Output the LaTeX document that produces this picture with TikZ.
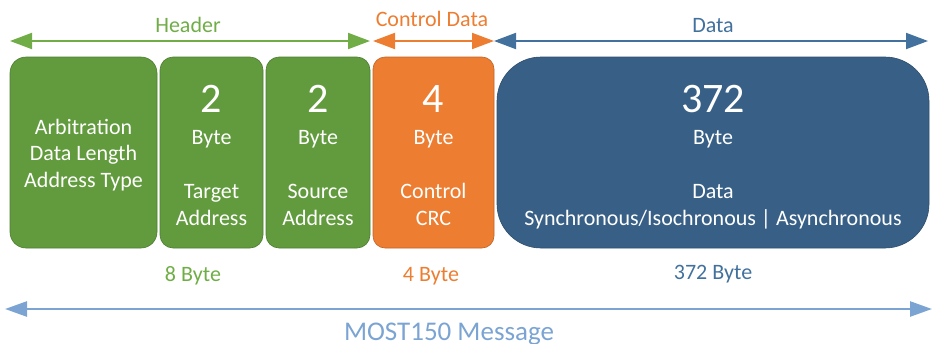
\documentclass[tikz,border=0pt]{standalone}
\usepackage{fontspec}
\setmainfont{Carlito}
\usetikzlibrary{arrows.meta}
\definecolor{hdrgreen}{HTML}{629B3E}
\definecolor{hdrlabel}{HTML}{70AD47}
\definecolor{ctlorange}{HTML}{ED7D31}
\definecolor{datablue}{HTML}{386086}
\definecolor{datalabel}{HTML}{41719C}
\definecolor{msgblue}{HTML}{7BA4D3}
\tikzset{
  field/.style={draw=#1!80!black, line width=0.6pt, fill=#1},
  span/.style={line width=2pt, draw=#1, {Triangle[length=22pt,width=16pt]}-{Triangle[length=22pt,width=16pt]}},
  boxtxt/.style={text=white, font=\fontsize{22}{26}\selectfont, anchor=base},
  bignum/.style={text=white, font=\fontsize{42}{48}\selectfont, anchor=base},
  caption/.style={font=\fontsize{22}{26}\selectfont, anchor=base},
}
\begin{document}
\begin{tikzpicture}[x=1pt,y=-1pt]
\useasboundingbox (0,0) rectangle (934,343);

% message fields
\draw[field=hdrgreen, rounded corners=16pt] (10,57) rectangle (157,248);
\draw[field=hdrgreen, rounded corners=13pt] (160,57) rectangle (263,248);
\draw[field=hdrgreen, rounded corners=13pt] (266,57) rectangle (370,248);
\draw[field=ctlorange, rounded corners=12pt] (373,57) rectangle (494,248);
\draw[field=datablue, rounded corners=44pt] (497,57) rectangle (929,248);

% field contents
\node[boxtxt] (arb) at (83.5,134) {Arbitration};
\node[boxtxt] (dlen) at (83.5,160) {Data Length};
\node[boxtxt] (atype) at (83.5,187) {Address Type};

\node[bignum] (n2a) at (211.5,112) {2};
\node[boxtxt] (b2a) at (211.5,144) {Byte};
\node[boxtxt] (tgt) at (211.5,198) {Target};
\node[boxtxt] (tgta) at (211.5,225) {Address};

\node[bignum] (n2b) at (318,112) {2};
\node[boxtxt] (b2b) at (318,144) {Byte};
\node[boxtxt] (src) at (318,198) {Source};
\node[boxtxt] (srca) at (318,225) {Address};

\node[bignum] (n4) at (433.5,112) {4};
\node[boxtxt] (b4) at (433.5,144) {Byte};
\node[boxtxt] (ctl) at (433.5,198) {Control};
\node[boxtxt] (crc) at (433.5,225) {CRC};

\node[bignum] (n372) at (713,112) {372};
\node[boxtxt] (b372) at (713,144) {Byte};
\node[boxtxt] (dat) at (713,198) {Data};
\node[boxtxt] (sync) at (713,225) {Synchronous/Isochronous | Asynchronous};

% section spans
\coordinate (hL) at (10,41);  \coordinate (hR) at (370,41);
\coordinate (cL) at (373,41); \coordinate (cR) at (494,41);
\coordinate (dL) at (494,41); \coordinate (dR) at (928,41);
\draw[span=hdrlabel] (hL) -- (hR);
\draw[span=ctlorange] (cL) -- (cR);
\draw[span=datalabel] (dL) -- (dR);
\node[caption, text=hdrlabel] (hdr) at (188,32) {Header};
\node[caption, text=ctlorange] (ctld) at (432,26) {Control Data};
\node[caption, text=datalabel] (datl) at (713,32) {Data};

% sizes
\node[caption, text=hdrlabel] (s8) at (193,281) {8 Byte};
\node[caption, text=ctlorange] (s4) at (431,281) {4 Byte};
\node[caption, text=datalabel] (s372) at (713,279) {372 Byte};

% whole message
\coordinate (mL) at (5,309); \coordinate (mR) at (932,309);
\draw[line width=2.5pt, draw=msgblue, {Triangle[length=22pt,width=15pt]}-{Triangle[length=22pt,width=15pt]}] (mL) -- (mR);
\node[font=\fontsize{27}{32}\selectfont, text=msgblue, anchor=base] (msg) at (449,340) {MOST150 Message};
\end{tikzpicture}
\end{document}
